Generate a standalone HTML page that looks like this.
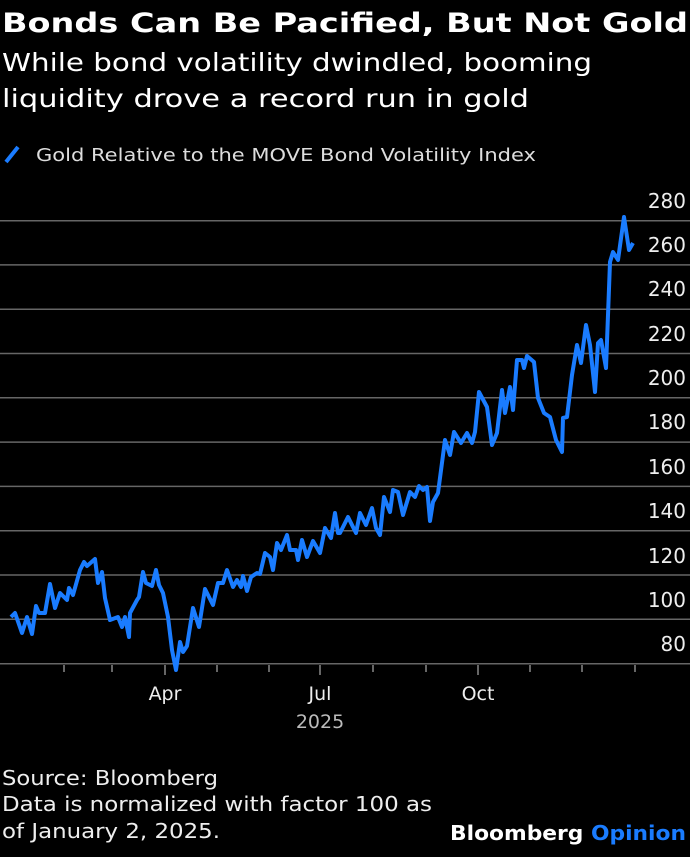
<!DOCTYPE html>
<html><head><meta charset="utf-8"><style>
body{margin:0;background:#000;width:690px;height:852px;overflow:hidden}
</style></head><body>
<svg width="690" height="852" xmlns="http://www.w3.org/2000/svg" font-family="DejaVu Sans, Liberation Sans, sans-serif">
<text x="2" y="32" font-size="27" font-weight="bold" fill="#fff" textLength="686" lengthAdjust="spacingAndGlyphs">Bonds Can Be Pacified, But Not Gold</text>
<text x="2" y="71" font-size="25" fill="#fff" textLength="590" lengthAdjust="spacingAndGlyphs">While bond volatility dwindled, booming</text>
<text x="2" y="107" font-size="25" fill="#fff" textLength="527" lengthAdjust="spacingAndGlyphs">liquidity drove a record run in gold</text>
<line x1="6" y1="162" x2="18" y2="147" stroke="#1a7cff" stroke-width="4"/>
<text x="36" y="161" font-size="18" fill="#ddd" textLength="500" lengthAdjust="spacingAndGlyphs">Gold Relative to the MOVE Bond Volatility Index</text>
<g stroke="#666" stroke-width="1.5">
<line x1="0" x2="690" y1="220.7" y2="220.7"/><line x1="0" x2="690" y1="264.9" y2="264.9"/>
<line x1="0" x2="690" y1="309.2" y2="309.2"/><line x1="0" x2="690" y1="353.5" y2="353.5"/>
<line x1="0" x2="690" y1="397.8" y2="397.8"/><line x1="0" x2="690" y1="442.1" y2="442.1"/>
<line x1="0" x2="690" y1="486.4" y2="486.4"/><line x1="0" x2="690" y1="530.7" y2="530.7"/>
<line x1="0" x2="690" y1="575" y2="575"/><line x1="0" x2="690" y1="619.3" y2="619.3"/>
<line x1="0" x2="690" y1="663.7" y2="663.7"/>
</g>
<g stroke="#888" stroke-width="1.5">
<line x1="64" x2="64" y1="665" y2="672"/><line x1="112" x2="112" y1="665" y2="672"/>
<line x1="165" x2="165" y1="665" y2="675"/><line x1="217" x2="217" y1="665" y2="672"/>
<line x1="269" x2="269" y1="665" y2="672"/><line x1="320" x2="320" y1="665" y2="675"/>
<line x1="373" x2="373" y1="665" y2="672"/><line x1="426" x2="426" y1="665" y2="672"/>
<line x1="478" x2="478" y1="665" y2="675"/><line x1="530" x2="530" y1="665" y2="672"/>
<line x1="582" x2="582" y1="665" y2="672"/><line x1="635" x2="635" y1="665" y2="672"/>
</g>
<g font-size="20" fill="#eee" text-anchor="end">
<text x="686" y="208">280</text><text x="686" y="252">260</text><text x="686" y="296">240</text>
<text x="686" y="341">220</text><text x="686" y="385">200</text><text x="686" y="429">180</text>
<text x="686" y="474">160</text><text x="686" y="518">140</text><text x="686" y="563">120</text>
<text x="686" y="607">100</text><text x="686" y="651">80</text>
</g>
<g font-size="19" fill="#eee" text-anchor="middle">
<text x="165" y="700">Apr</text><text x="320" y="700">Jul</text><text x="478" y="700">Oct</text>
<text x="320" y="728" fill="#bbb">2025</text>
</g>
<polyline fill="none" stroke="#1a7cff" stroke-width="4" stroke-linejoin="round" points="11,617 15,613 22,633 27,617 32,634 36,606 39,613 45,613 50,584 55,608 60,593 67,600 69,588 73,595 80,570 84,562 87,566 95,559 98,583 102,572 105,598 110,620 118,617 122,627 125,617 129,637 130,613 137,600 139,597 143,572 146,583 152,586 156,570 159,585 163,593 168,617 172,650 176,670 180,642 183,652 187,646 193,608 199,627 205,589 213,605 218,583 223,583 227,570 233,587 237,580 241,587 243,576 247,591 251,577 257,573 260,574 265,553 270,557 273,570 277,543 281,550 287,535 290,550 296,550 298,560 302,540 307,557 313,541 320,553 325,528 331,538 335,513 338,533 340,533 348,517 356,533 360,513 366,525 372,508 376,528 380,535 384,497 390,512 393,490 398,492 403,515 410,492 415,497 419,486 423,490 427,487 430,521 433,502 438,493 445,440 450,455 454,432 461,443 467,433 472,443 475,432 479,392 487,407 492,445 497,433 502,390 505,413 510,387 513,410 517,360 522,360 524,368 527,356 534,362 538,398 544,413 550,417 556,440 562,452 563,418 567,417 572,375 577,345 581,363 586,325 590,345 595,392 598,343 601,340 606,368 610,262 613,252 618,260 624,217 629,250 633,243"/>
<g font-size="20" fill="#eee">
<text x="2" y="785" textLength="216" lengthAdjust="spacingAndGlyphs">Source: Bloomberg</text>
<text x="2" y="811" textLength="430" lengthAdjust="spacingAndGlyphs">Data is normalized with factor 100 as</text>
<text x="2" y="838" textLength="218" lengthAdjust="spacingAndGlyphs">of January 2, 2025.</text>
</g>
<text x="686" y="840" font-size="20" font-weight="bold" text-anchor="end" fill="#fff" textLength="236" lengthAdjust="spacingAndGlyphs">Bloomberg <tspan fill="#1a7cff">Opinion</tspan></text>
</svg>
</body></html>
